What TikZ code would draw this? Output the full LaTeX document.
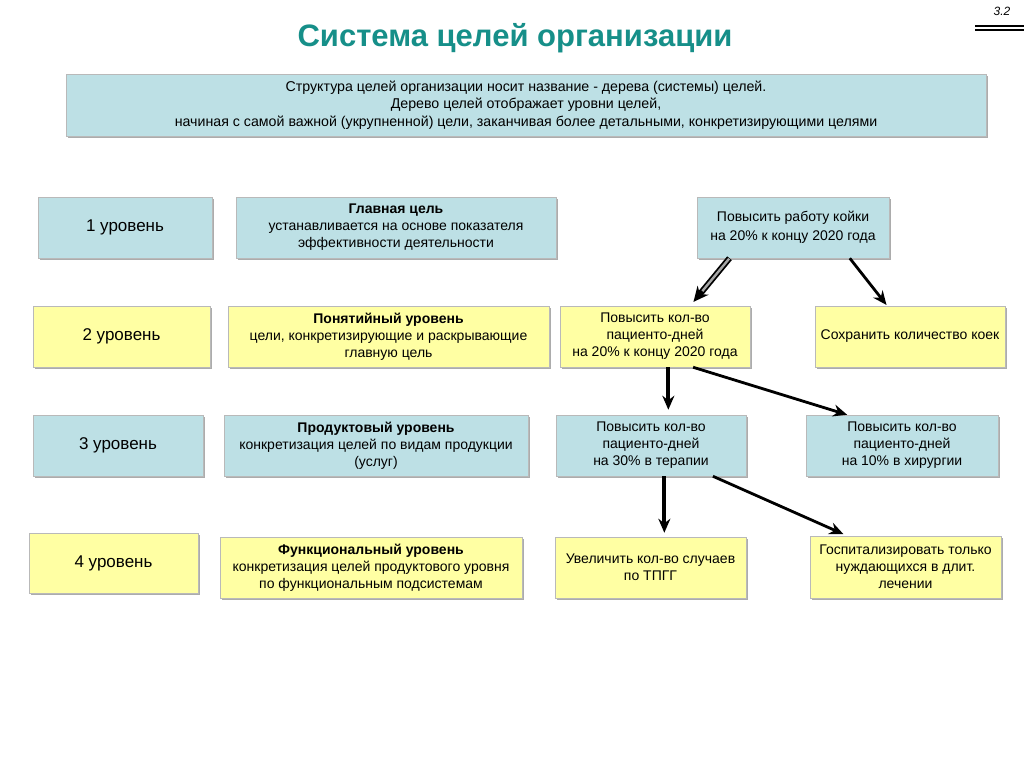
\documentclass[tikz,border=0pt]{standalone}
\usepackage{fontspec}
\setmainfont{Liberation Sans}
\usetikzlibrary{shadows,calc,arrows.meta}
\definecolor{boxblue}{RGB}{189,224,229}
\definecolor{boxyellow}{RGB}{255,255,163}
\definecolor{titleteal}{RGB}{22,143,137}
\tikzset{
  gbox/.style={draw=gray!55, line width=0.5pt, rectangle, align=center, inner sep=2pt,
    drop shadow={shadow xshift=2pt, shadow yshift=-2pt, fill=gray!65, opacity=1},
    font=\fontsize{14}{17}\selectfont},
  bluebox/.style={gbox, fill=boxblue},
  yelbox/.style={gbox, fill=boxyellow},
  lvl/.style={font=\fontsize{17}{20}\selectfont},
  arr/.style={black, line width=2.8pt, -{Stealth[length=14pt,width=12pt]}},
  varr/.style={black, line width=3.8pt, -{Stealth[length=14pt,width=12pt]}},
}
\begin{document}
\begin{tikzpicture}[x=1pt,y=-1pt]
\useasboundingbox (0,0) rectangle (1024,767);
\fill[white] (0,0) rectangle (1024,767);

\node[font=\bfseries\fontsize{31}{36}\selectfont, text=titleteal] (title) at (515,38) {Система целей организации};
\node[font=\itshape\fontsize{12}{14}\selectfont] (num) at (1002,11) {3.2};
\draw[line width=1.2pt] (975,26) -- (1024,26);
\draw[line width=1.2pt] (975,30) -- (1024,30);

\node[bluebox, minimum width=920, minimum height=62, font=\fontsize{14.2}{17.5}\selectfont] (info) at (526,105)
 {Структура целей организации носит название - дерева (системы) целей.\\
  Дерево целей отображает уровни целей,\\
  начиная с самой важной (укрупненной) цели, заканчивая более детальными, конкретизирующими целями};

% row 1
\node[bluebox, lvl, minimum width=174, minimum height=61] (L1) at (125,227.5) {1 уровень};
\node[bluebox, minimum width=320, minimum height=61] (G1) at (396,227.5) {\textbf{Главная цель}\\устанавливается на основе показателя\\эффективности деятельности};
\node[bluebox, minimum width=192, minimum height=61, font=\fontsize{14}{19.5}\selectfont] (T1) at (793,227.5) {Повысить работу койки\\на 20\% к концу 2020 года};

% row 2
\node[yelbox, lvl, minimum width=177, minimum height=61] (L2) at (121.5,336.5) {2 уровень};
\node[yelbox, minimum width=321, minimum height=61] (G2) at (388.5,336.5) {\textbf{Понятийный уровень}\\цели, конкретизирующие и раскрывающие\\главную цель};
\node[yelbox, minimum width=190, minimum height=61] (A2) at (655,336.5) {Повысить кол-во\\пациенто-дней\\на 20\% к концу 2020 года};
\node[yelbox, minimum width=190, minimum height=61] (B2) at (910,336.5) {Сохранить количество коек};

% row 3
\node[bluebox, lvl, minimum width=170, minimum height=61] (L3) at (118,445.5) {3 уровень};
\node[bluebox, minimum width=304, minimum height=61] (G3) at (376,445.5) {\textbf{Продуктовый уровень}\\конкретизация целей по видам продукции\\(услуг)};
\node[bluebox, minimum width=190, minimum height=61] (A3) at (651,445.5) {Повысить кол-во\\пациенто-дней\\на 30\% в терапии};
\node[bluebox, minimum width=192, minimum height=61] (B3) at (902,445.5) {Повысить кол-во\\пациенто-дней\\на 10\% в хирургии};

% row 4
\node[yelbox, lvl, minimum width=169, minimum height=60] (L4) at (113.5,563) {4 уровень};
\node[yelbox, minimum width=302, minimum height=61] (G4) at (371,567.5) {\textbf{Функциональный уровень}\\конкретизация целей продуктового уровня\\по функциональным подсистемам};
\node[yelbox, minimum width=191, minimum height=61] (A4) at (650.5,567.5) {Увеличить кол-во случаев\\по ТПГГ};
\node[yelbox, minimum width=191, minimum height=62] (B4) at (905.5,567) {Госпитализировать только\\нуждающихся в длит.\\лечении};

% arrows
\coordinate (t1s) at ($(T1.south)!0.66!(T1.south west)$);
\coordinate (a2n) at ($(A2.north)!0.37!(A2.north east)$);
\draw[black, line width=6pt, -{Stealth[length=15pt,width=14pt]}, shorten >=5pt] (t1s) -- (a2n);
\draw[gray!70, line width=2.4pt, shorten >=19pt, shorten <=0.6pt] (t1s) -- (a2n);

\draw[arr, shorten >=1pt] ($(T1.south)!0.59!(T1.south east)$) -- ($(B2.north)!0.24!(B2.north west)$);

\coordinate (a2s) at ($(A2.south)!0.14!(A2.south east)$);
\draw[varr, shorten >=5pt] (a2s) -- (a2s |- A3.north);
\draw[arr] ($(A2.south)!0.4!(A2.south east)$) -- ($(B3.north)!0.57!(B3.north west)$);

\coordinate (a3s) at ($(A3.south)!0.14!(A3.south east)$);
\draw[varr, shorten >=4pt] (a3s) -- (a3s |- A4.north);
\draw[arr, shorten >=4pt] ($(A3.south)!0.65!(A3.south east)$) -- ($(B4.north)!0.61!(B4.north west)$);
\end{tikzpicture}
\end{document}
